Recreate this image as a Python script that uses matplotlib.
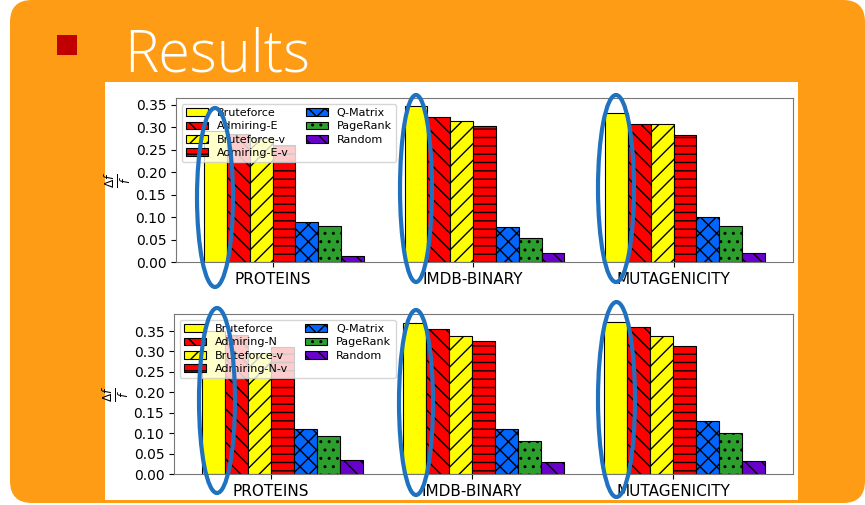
import matplotlib
matplotlib.use("Agg")
import matplotlib.pyplot as plt
import numpy as np
from matplotlib.patches import FancyBboxPatch, Rectangle, Ellipse

# datasets on the x axis
datasets = ["PROTEINS", "IMDB-BINARY", "MUTAGENICITY"]

# upper chart (edge version)
labels_e = ["Bruteforce", "Admiring-E", "Bruteforce-v", "Admiring-E-v",
            "Q-Matrix", "PageRank", "Random"]
bruteforce_e = [0.292, 0.348, 0.331]
admiring_e = [0.285, 0.322, 0.308]
bruteforce_v_e = [0.277, 0.314, 0.307]
admiring_e_v = [0.261, 0.303, 0.282]
qmatrix_e = [0.090, 0.079, 0.101]
pagerank_e = [0.080, 0.053, 0.080]
random_e = [0.014, 0.019, 0.019]

# lower chart (node version)
labels_n = ["Bruteforce", "Admiring-N", "Bruteforce-v", "Admiring-N-v",
            "Q-Matrix", "PageRank", "Random"]
bruteforce_n = [0.350, 0.370, 0.373]
admiring_n = [0.340, 0.355, 0.360]
bruteforce_v_n = [0.296, 0.338, 0.339]
admiring_n_v = [0.312, 0.325, 0.313]
qmatrix_n = [0.111, 0.109, 0.130]
pagerank_n = [0.092, 0.082, 0.101]
random_n = [0.034, 0.030, 0.032]

colors = ["#ffff00", "#ff0000", "#ffff00", "#ff0000", "#0066ff", "#2ca02c", "#6a00cc"]
hatches = ["", "\\\\", "//", "--", "xx", "..", "\\\\"]

W, H = 865, 505
fig = plt.figure(figsize=(W / 100, H / 100), dpi=100)
fig.patch.set_facecolor("white")

# slide background, pixel coordinates with y going down
bg = fig.add_axes([0, 0, 1, 1], zorder=0)
bg.set_xlim(0, W)
bg.set_ylim(H, 0)
bg.axis("off")
bg.add_patch(FancyBboxPatch((10, 0), 855, 503, boxstyle="round,pad=0,rounding_size=22",
                            facecolor="#fe9d15", edgecolor="none"))
bg.add_patch(Rectangle((57, 35), 20, 20, facecolor="#c00000", edgecolor="none"))
bg.text(124, 72, "Results", color="white", fontsize=41.5, family="Open Sans",
        fontweight="light", va="baseline", ha="left")
bg.add_patch(Rectangle((105, 82), 693, 418, facecolor="white", edgecolor="none"))


def draw_chart(rect, labels, series):
    ax = fig.add_axes(rect, zorder=5)
    x = np.arange(len(datasets))
    w = 0.114
    for i, vals in enumerate(series):
        ax.bar(x + (i - 3) * w, vals, w, align="edge", color=colors[i],
               hatch=hatches[i], edgecolor="black", linewidth=0.8, label=labels[i])
    ax.set_xticks(x)
    ax.set_xticklabels(datasets, fontsize=11)
    ax.tick_params(axis="y", labelsize=10)
    ax.set_yticks(np.arange(0, 0.36, 0.05))
    ax.set_ylabel(r"$\frac{\Delta f}{f}$", fontsize=12.5, labelpad=2)
    for s in ax.spines.values():
        s.set_color("#777777")
    ax.legend(ncol=2, loc="upper left", fontsize=8, labelspacing=0.3,
              columnspacing=1.5)
    return ax


draw_chart([176 / W, 1 - 262 / H, 617 / W, 164 / H], labels_e,
           [bruteforce_e, admiring_e, bruteforce_v_e, admiring_e_v,
            qmatrix_e, pagerank_e, random_e])
draw_chart([174 / W, 1 - 474 / H, 619 / W, 160 / H], labels_n,
           [bruteforce_n, admiring_n, bruteforce_v_n, admiring_n_v,
            qmatrix_n, pagerank_n, random_n])

# blue highlight ellipses on top
fg = fig.add_axes([0, 0, 1, 1], zorder=10)
fg.set_xlim(0, W)
fg.set_ylim(H, 0)
fg.axis("off")
fg.patch.set_alpha(0)
ellipses = [(215, 197.5, 36, 179), (416, 188.5, 32, 187), (616, 188.5, 36, 187),
            (217, 400.5, 36, 185), (416, 402.5, 34, 185), (616.5, 399.5, 37, 195)]
for cx, cy, ew, eh in ellipses:
    fg.add_patch(Ellipse((cx, cy), ew, eh, facecolor="none", edgecolor="#1f72c0", linewidth=3))

plt.savefig("out.png", dpi=100)
